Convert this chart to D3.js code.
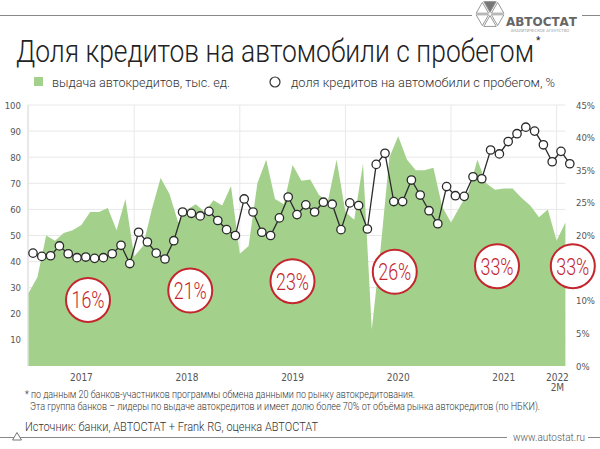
<!DOCTYPE html>
<html><head><meta charset="utf-8">
<script src="https://cdn.jsdelivr.net/npm/d3@7"></script>
<style>
html,body{margin:0;padding:0;background:#fff;}
svg{display:block;}
</style></head>
<body><svg id="c" width="600" height="449"></svg>
<script>
// ---------- DATA ----------
const months = [];
for (let y = 2017; y <= 2022; y++) for (let m = 1; m <= 12; m++) { if (y === 2022 && m > 2) break; months.push(y + "-" + String(m).padStart(2, "0")); }

// выдача автокредитов, тыс. ед. (Jan 2017 – Feb 2022)
const loans = [28, 34, 50, 48, 51, 52, 54, 59, 59, 60.5, 52, 64,
               42, 46, 60, 72, 66, 55, 60, 62, 59, 63.5, 61.5, 69,
               43, 46, 70, 79, 64, 62, 77, 71, 71.5, 65.5, 63, 79,
               59, 56, 77.5, 14, 45, 80, 88, 79, 75, 75, 76, 61,
               55, 61, 67, 79, 70, 67.5, 68, 68, 64.5, 61.5, 57, 60,
               48, 55];

// доля кредитов на автомобили с пробегом, %
const share = [17.3, 16.8, 16.9, 18.4, 17.2, 16.6, 16.7, 16.5, 16.6, 17.2, 18.5, 15.7,
               20.5, 19.0, 17.3, 16.4, 19.2, 23.6, 23.4, 23.0, 23.7, 22.3, 20.9, 20.0,
               25.6, 23.6, 20.5, 20.0, 22.7, 25.9, 23.2, 24.7, 23.6, 25.1, 24.8, 20.9,
               25.0, 24.6, 21.0, 30.9, 32.6, 25.2, 25.2, 28.5, 26.2, 23.8, 21.8, 27.5,
               26.1, 26.0, 29.0, 28.7, 33.1, 32.5, 34.4, 35.6, 36.6, 36.0, 33.9, 31.3,
               32.9, 31.0];

const years = ["2017", "2018", "2019", "2020", "2021", "2022"];
const yearSub = ["", "", "", "", "", "2М"];
const annualShare = ["16%", "21%", "23%", "26%", "33%", "33%"];

const leftTicks = [10, 20, 30, 40, 50, 60, 70, 80, 90, 100];
const rightTickValues = [0, 5, 10, 15, 20, 25, 30, 35, 40];
const rightTickLabels = ["0%", "5%", "10%", "15%", "20%", "25%", "35%", "40%", "45%"];

const title = "Доля кредитов на автомобили с пробегом";
const legend1 = "выдача автокредитов, тыс. ед.";
const legend2 = "доля кредитов на автомобили с пробегом, %";
const note1 = "* по данным 20 банков-участников программы обмена данными по рынку автокредитования.";
const note2 = "Эта группа банков – лидеры по выдаче автокредитов и имеет долю более 70% от объёма рынка автокредитов (по НБКИ).";
const source = "Источник: банки, АВТОСТАТ + Frank RG, оценка АВТОСТАТ";

// ---------- DRAW ----------
const svg = d3.select("#c");
const GREEN = "#a3d08b", RED = "#c4262e", GRID = "#e8e8e8", TXT = "#555";
const FONT = '"Liberation Sans Narrow","DejaVu Sans Condensed",sans-serif';
const THIN = "Roboto";

function thinText(xp, yp, str, size, len, color, anchor) {
  return svg.append("text").attr("x", xp).attr("y", yp).attr("font-family", THIN).attr("font-weight", 300)
    .attr("font-size", size).attr("fill", color).attr("text-anchor", anchor || "start")
    .attr("textLength", len).attr("lengthAdjust", "spacingAndGlyphs").text(str);
}

const x = d3.scaleBand().domain(d3.range(months.length)).range([28.6, 28.6 + months.length * 8.8]);
const bw = x.bandwidth();
const yL = d3.scaleLinear().domain([0, 100]).range([366, 105]);
const yR = d3.scaleLinear().domain([0, 40]).range([366, 105]);
const plotL = 27, plotR = x(months.length - 1);

// horizontal grid
svg.append("g").selectAll("line").data(leftTicks).join("line")
  .attr("x1", plotL).attr("x2", plotR).attr("y1", d => yL(d)).attr("y2", d => yL(d))
  .attr("stroke", GRID).attr("stroke-width", 1);
// vertical grid at year boundaries
const yearStarts = years.map((y, k) => k * 12);
svg.append("g").selectAll("line").data(yearStarts).join("line")
  .attr("x1", d => x(d)).attr("x2", d => x(d)).attr("y1", yL(100)).attr("y2", yL(0))
  .attr("stroke", GRID).attr("stroke-width", 1);

// area
const area = d3.area().x((d, i) => x(i)).y0(yL(0)).y1(d => yL(d));
svg.append("path").datum(loans).attr("d", area).attr("fill", GREEN);

// left axis
const axL = svg.append("g").attr("transform", `translate(${plotL},0)`)
  .call(d3.axisLeft(yL).tickValues(leftTicks).tickSize(0).tickPadding(6));
axL.select(".domain").attr("stroke", GRID);
axL.selectAll("text").attr("font-family", FONT).attr("font-size", 9.5).attr("fill", TXT);

// right axis
const axR = svg.append("g").attr("transform", `translate(572,0)`)
  .call(d3.axisRight(yR).tickValues(rightTickValues).tickFormat((d, i) => rightTickLabels[i]).tickSize(0).tickPadding(4));
axR.select(".domain").remove();
axR.selectAll("text").attr("font-family", FONT).attr("font-size", 9.5).attr("fill", TXT);

// line
const line = d3.line().x((d, i) => x(i) + bw / 2).y(d => yR(d));
svg.append("path").datum(share).attr("d", line).attr("fill", "none").attr("stroke", "#2b2b2b").attr("stroke-width", 1.3);
svg.append("g").selectAll("circle").data(share).join("circle")
  .attr("cx", (d, i) => x(i) + bw / 2).attr("cy", d => yR(d)).attr("r", 4.2)
  .attr("fill", "#fff").attr("stroke", "#2b2b2b").attr("stroke-width", 1.3);

// annual circles (annotation layout)
const annX = d3.scaleLinear().domain([0, 4]).range([88, 497]);
annualShare.forEach((t, k) => {
  const cx = k < 5 ? annX(k) : x(months.length - 1) + bw / 2 + 3;
  const cy = yL(25.3 + 3.6 * Math.min(k, 3.6));
  svg.append("circle").attr("cx", cx).attr("cy", cy).attr("r", 22)
    .attr("fill", "#fff").attr("stroke", RED).attr("stroke-width", 2);
  thinText(cx, cy + 8.5, t, 24, 33, RED, "middle");
});

// year labels
years.forEach((t, k) => {
  const first = k * 12, last = Math.min(k * 12 + 11, months.length - 1);
  let cx = (x(first) + x(last) + bw) / 2;
  if (k === years.length - 1) cx -= 8;
  svg.append("text").attr("x", cx).attr("y", 381).attr("text-anchor", "middle")
    .attr("font-family", FONT).attr("font-size", 10).attr("fill", TXT).text(t);
  if (yearSub[k]) svg.append("text").attr("x", cx).attr("y", 391).attr("text-anchor", "middle")
    .attr("font-family", FONT).attr("font-size", 10).attr("fill", TXT).text(yearSub[k]);
});

// title with superscript asterisk
const tt = svg.append("text").attr("x", 16).attr("y", 62).attr("font-family", THIN).attr("font-weight", 300)
  .attr("font-size", 31).attr("fill", "#222");
tt.append("tspan").attr("textLength", 518).attr("lengthAdjust", "spacingAndGlyphs").text(title);
tt.append("tspan").attr("dx", 2).attr("dy", -18).attr("font-size", 10).attr("font-weight", 400).text("*");

// legend
svg.append("rect").attr("x", 34).attr("y", 77).attr("width", 9).attr("height", 9).attr("fill", GREEN);
thinText(52, 86.5, legend1, 13.5, 178, "#333");
svg.append("circle").attr("cx", 275).attr("cy", 82).attr("r", 5).attr("fill", "#fff").attr("stroke", "#333").attr("stroke-width", 1.2);
thinText(291, 86.5, legend2, 13.5, 264, "#333");

// footnotes
thinText(25, 398, note1, 10, 390, "#333");
thinText(30, 410, note2, 10, 510, "#333");
thinText(25, 431, source, 12.5, 293, "#333");

// header rule + logo
svg.append("line").attr("x1", 0).attr("x2", 472).attr("y1", 15.5).attr("y2", 15.5).attr("stroke", "#888").attr("stroke-width", 1);
svg.append("line").attr("x1", 582).attr("x2", 600).attr("y1", 15.5).attr("y2", 15.5).attr("stroke", "#888").attr("stroke-width", 1);
const lg = svg.append("g").attr("transform", "translate(490,14)");
const R = 12.5;
for (let k = 0; k < 6; k++) {
  const a1 = Math.PI / 3 * k - Math.PI / 2 - Math.PI / 6, a2 = a1 + Math.PI / 3;
  const g = 1.6, am = (a1 + a2) / 2;
  const dx = g * Math.cos(am), dy = g * Math.sin(am);
  lg.append("path").attr("d", `M${dx},${dy}L${dx + R * Math.cos(a1)},${dy + R * Math.sin(a1)}L${dx + R * Math.cos(a2)},${dy + R * Math.sin(a2)}Z`)
    .attr("fill", k === 0 ? "#777" : "#fff").attr("stroke", "#999").attr("stroke-width", 1);
}
svg.append("text").attr("x", 506).attr("y", 26).attr("font-family", "DejaVu Sans").attr("font-weight", "bold")
  .attr("font-size", 12.5).attr("fill", "#666").attr("textLength", 71).attr("lengthAdjust", "spacingAndGlyphs").text("АВТОСТАТ");
svg.append("text").attr("x", 540).attr("y", 31.5).attr("text-anchor", "middle").attr("font-family", FONT)
  .attr("font-size", 4.2).attr("fill", "#999").text("АНАЛИТИЧЕСКОЕ АГЕНТСТВО");

// footer rule
svg.append("line").attr("x1", 0).attr("x2", 507).attr("y1", 437.5).attr("y2", 437.5).attr("stroke", "#888").attr("stroke-width", 1);
svg.append("line").attr("x1", 588).attr("x2", 600).attr("y1", 437.5).attr("y2", 437.5).attr("stroke", "#888").attr("stroke-width", 1);
svg.append("path").attr("d", "M17,432.5L21.5,440L12.5,440Z").attr("fill", "#fff").attr("stroke", "#777").attr("stroke-width", 1);
thinText(585, 441, "www.autostat.ru", 10.5, 72, "#555", "end");
</script></body></html>
